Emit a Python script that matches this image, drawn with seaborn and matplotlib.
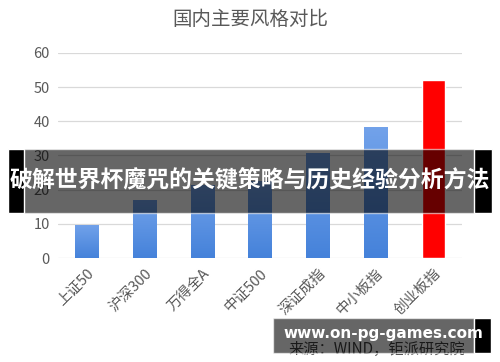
import numpy as np
import pandas as pd
import matplotlib
matplotlib.use("Agg")
import matplotlib.pyplot as plt
import seaborn as sns
from matplotlib.patches import Rectangle

categories = ["上证50", "沪深300", "万得全A", "中证500", "深证成指", "中小板指", "创业板指"]
values = [9.8, 17.0, 21.5, 22.5, 30.6, 38.2, 52.2]
bar_colors = ["#5b93e2"] * 6 + ["#ff0000"]
yticks = [0, 10, 20, 30, 40, 50, 60]

title = "国内主要风格对比"
source = "来源：WIND，钜派研究院"
banner = "破解世界杯魔咒的关键策略与历史经验分析方法"
site = "www.on-pg-games.com"

sns.set_style("white")
plt.rcParams["font.family"] = ["Noto Sans CJK SC", "DejaVu Sans"]

df = pd.DataFrame({"cat": categories, "val": values})

fig = plt.figure(figsize=(5, 3.62), dpi=100)
ax = fig.add_axes([0.116, 0.287, 0.808, 0.567])

sns.barplot(data=df, x="cat", y="val", hue="cat", palette=bar_colors,
            saturation=1, legend=False, width=0.4, ax=ax, zorder=3)

# vertical gradient on the blue bars
grad = np.linspace(0, 1, 100).reshape(-1, 1)
blue = matplotlib.colors.LinearSegmentedColormap.from_list("b", ["#4582da", "#72a2ea"])
for p, c in zip(ax.patches, bar_colors):
    if c == "#ff0000":
        continue
    x0, y0 = p.get_x(), p.get_y()
    w, h = p.get_width(), p.get_height()
    im = ax.imshow(grad, cmap=blue, aspect="auto", origin="lower",
                   extent=[x0, x0 + w, y0, y0 + h], zorder=4)
    im.set_clip_path(p)
    p.set_alpha(0)

ax.set_xlim(-0.5, 6.5)
ax.set_ylim(0, 60)
ax.set_yticks(yticks)
ax.yaxis.grid(True, color="#d9d9d9", linewidth=0.9, zorder=0)
ax.set_axisbelow(True)
for s in ax.spines.values():
    s.set_visible(False)
ax.set_xlabel("")
ax.set_ylabel("")
ax.tick_params(axis="both", length=0, colors="#595959", labelsize=10.5, pad=6)
ax.set_xticks(range(len(categories)))
ax.set_xticklabels(categories, rotation=45, ha="right", rotation_mode="anchor")

fig.text(0.5, 0.945, title, ha="center", va="center", fontsize=14, color="#595959")
fig.text(0.93, 0.035, source, ha="right", va="center", fontsize=11, color="#404040")

# overlay banners
fig.patches.append(Rectangle((0.016, 0.412), 0.968, 0.177, transform=fig.transFigure,
                             facecolor="black", alpha=0.6, zorder=10))
fig.patches.append(Rectangle((0.016, 0.412), 0.032, 0.177, transform=fig.transFigure,
                             facecolor="black", zorder=11))
fig.patches.append(Rectangle((0.948, 0.412), 0.036, 0.177, transform=fig.transFigure,
                             facecolor="black", zorder=11))
fig.text(0.5, 0.50, banner, ha="center", va="center", fontsize=16.5,
         fontweight="bold", color="white", zorder=12)

fig.patches.append(Rectangle((0.546, 0.025), 0.402, 0.097, transform=fig.transFigure,
                             facecolor="black", alpha=0.6, zorder=10))
fig.patches.append(Rectangle((0.948, 0.025), 0.034, 0.097, transform=fig.transFigure,
                             facecolor="black", zorder=11))
fig.text(0.566, 0.078, site, ha="left", va="center", fontsize=11,
         fontweight="bold", color="white", zorder=12, family=["DejaVu Sans"])

fig.savefig("out.png", dpi=100)
